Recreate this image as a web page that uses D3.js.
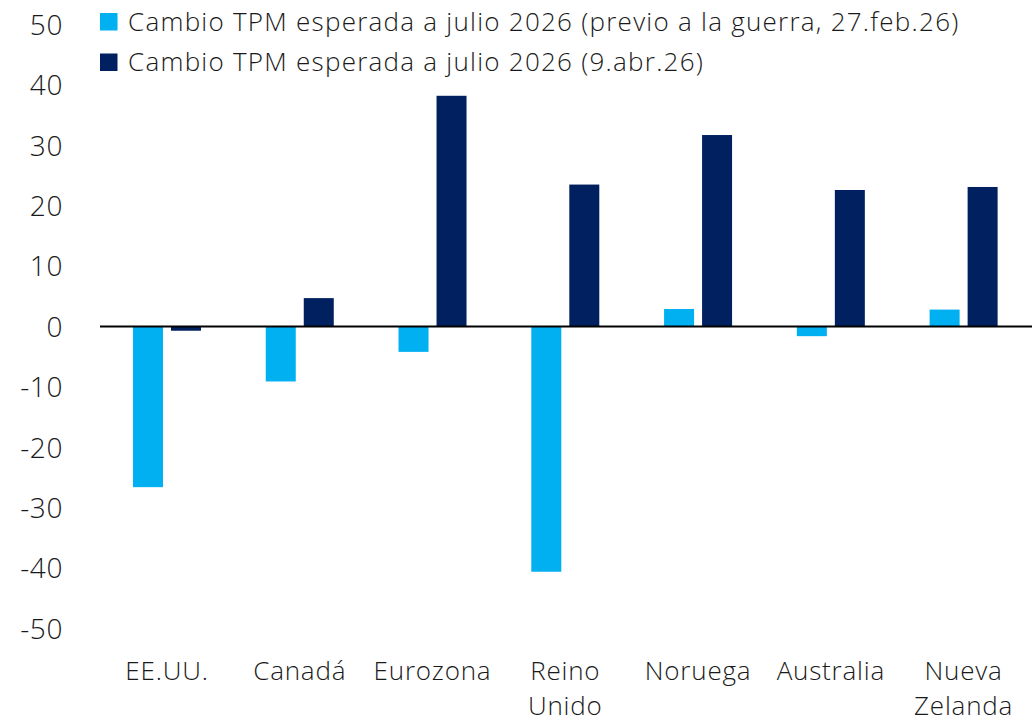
<!DOCTYPE html>
<html>
<head>
<meta charset="utf-8">
<script src="https://cdn.jsdelivr.net/npm/d3@7"></script>
<style>
  body { margin: 0; background: #fff; }
  svg text { font-family: "Open Sans", sans-serif; font-weight: 300; fill: #1a1a1a; }
</style>
</head>
<body>
<div id="chart"></div>
<script>
// categories and series
const categories = ["EE.UU.", "Canadá", "Eurozona", "Reino Unido", "Noruega", "Australia", "Nueva Zelanda"];
const seriesNames = [
  "Cambio TPM esperada a julio 2026 (previo a la guerra, 27.feb.26)",
  "Cambio TPM esperada a julio 2026 (9.abr.26)"
];
const preWar = [-26.6, -9.1, -4.2, -40.6, 2.9, -1.6, 2.8];
const april = [-0.7, 4.7, 38.2, 23.5, 31.7, 22.6, 23.1];
const yTicks = [-50, -40, -30, -20, -10, 0, 10, 20, 30, 40, 50];
const colors = ["#00B0F0", "#002060"];

const width = 1032, height = 723;

const svg = d3.select("#chart")
  .append("svg")
  .attr("width", width)
  .attr("height", height);

// y scale
const y = d3.scaleLinear()
  .domain([-50, 50])
  .range([628.5, 24.5]);

// x scales
const x0 = d3.scaleBand()
  .domain(categories)
  .range([100.6, 1030])
  .padding(0);

const x1 = d3.scaleBand()
  .domain([0, 1])
  .range([x0.bandwidth() / 2 - 34, x0.bandwidth() / 2 + 34])
  .paddingInner(8 / 38)
  .paddingOuter(0);

const data = categories.map((c, i) => ({ cat: c, values: [preWar[i], april[i]] }));

// y axis labels (no line, no ticks)
const yAxis = svg.append("g")
  .attr("transform", "translate(63,0)")
  .call(d3.axisLeft(y).tickValues(yTicks).tickFormat(d => String(d)).tickSize(0).tickPadding(0));
yAxis.select(".domain").remove();
yAxis.selectAll("text")
  .style("font-size", "28px")
  .style("letter-spacing", "0.6px")
  .attr("dy", "0.35em");

// bars
const groups = svg.selectAll(".grp")
  .data(data)
  .enter()
  .append("g")
  .attr("class", "grp")
  .attr("transform", d => `translate(${x0(d.cat)},0)`);

groups.selectAll("rect")
  .data(d => d.values.map((v, k) => ({ v, k })))
  .enter()
  .append("rect")
  .attr("x", d => x1(d.k))
  .attr("width", x1.bandwidth())
  .attr("y", d => y(Math.max(0, d.v)))
  .attr("height", d => Math.abs(y(d.v) - y(0)))
  .attr("fill", d => colors[d.k]);

// zero line
svg.append("line")
  .attr("x1", 100)
  .attr("x2", width)
  .attr("y1", y(0))
  .attr("y2", y(0))
  .attr("stroke", "#000")
  .attr("stroke-width", 2);

// category labels
const catLabels = svg.selectAll(".cat")
  .data(categories)
  .enter()
  .append("text")
  .attr("class", "cat")
  .attr("x", d => x0(d) + x0.bandwidth() / 2)
  .attr("y", 680)
  .attr("text-anchor", "middle")
  .style("font-size", "26px")
  .style("letter-spacing", "0.8px");

catLabels.selectAll("tspan")
  .data(d => d.split(" "))
  .enter()
  .append("tspan")
  .attr("x", function () { return d3.select(this.parentNode).attr("x"); })
  .attr("dy", (d, i) => i === 0 ? 0 : 35)
  .text(d => d);

// legend
const legend = svg.selectAll(".leg")
  .data(seriesNames)
  .enter()
  .append("g")
  .attr("class", "leg")
  .attr("transform", (d, i) => `translate(100,${13 + i * 40.5})`);

legend.append("rect")
  .attr("width", 17.5)
  .attr("height", 17.5)
  .attr("fill", (d, i) => colors[i]);

legend.append("text")
  .attr("x", 28)
  .attr("y", 17.5)
  .style("font-size", "26px")
  .style("letter-spacing", "1.25px")
  .text(d => d);
</script>
</body>
</html>
